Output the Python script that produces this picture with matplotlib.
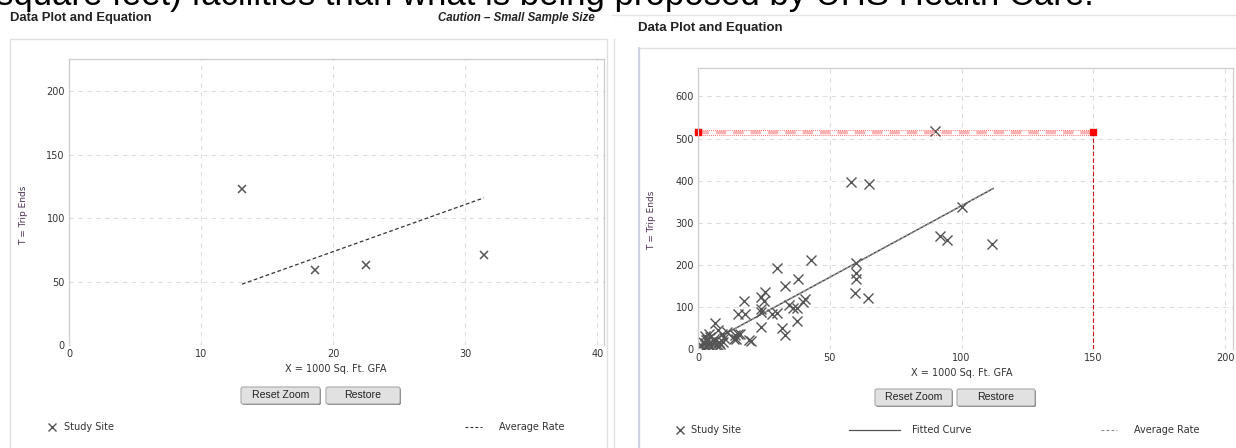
#!/usr/bin/env python3
"""Trip generation data plots: small sample (left) and full sample (right)."""
import matplotlib
matplotlib.use("Agg")
import matplotlib.pyplot as plt
from matplotlib.patches import FancyBboxPatch, Rectangle
from matplotlib.lines import Line2D

# left panel: small sample
left_x = [13.1, 18.6, 22.5, 31.4]
left_y = [123, 59, 63, 71]
left_avg_x = [13.1, 31.4]
left_avg_y = [48, 116]

# right panel: all study sites
right_x = [90, 58, 65, 100, 92, 94.5, 111.5, 43, 30, 60, 60, 60, 59.5, 64.5,
           38, 33, 25.5, 24, 25, 17.5, 15, 18, 24, 24, 28, 30, 34.5, 36, 37.5,
           40.5, 40, 37.5, 24, 32, 33, 20, 14.5, 15, 6.5, 7.5, 4.5, 2, 1.3, 3.2,
           5.2, 7.8, 7.8, 14, 13.5, 16, 19.5, 9, 10, 3, 4, 6, 2.5, 5, 8.5, 1.8,
           3.6, 6.8, 9.5, 4.2, 11, 2.8]
right_y = [519, 396, 392, 338, 268, 259, 249, 211, 191, 205, 181, 165, 133, 120,
           166, 150, 136, 124, 113, 114, 83, 82, 94, 87, 83, 86, 104, 96, 96,
           119, 110, 67, 52, 50, 32, 18, 24, 34, 62, 44, 28, 16, 8, 20,
           12, 16, 6, 32, 24, 36, 20, 35, 25, 5, 12, 24, 30, 3, 10, 2,
           22, 8, 15, 35, 40, 14]
fit_x = [1, 20, 50, 80, 112]
fit_y = [4, 68, 170, 272, 381]
avg_x = [1, 112]
avg_y = [3.4, 381]
target_x = 150
target_y = 515

GRID = "#dddddd"
FRAME = "#cccccc"
MARK = "#555555"
TICK = "#333333"
LABEL_PURPLE = "#4a3050"

fig = plt.figure(figsize=(12.36, 4.48), dpi=100)
W, H = 1236, 448

# overlay in pixel coordinates for page decorations
deco = fig.add_axes([0, 0, 1, 1], zorder=-1)
deco.set_xlim(0, W)
deco.set_ylim(H, 0)
deco.axis("off")


def style_axes(ax, xticks, yticks, xlim, ylim):
    ax.set_xlim(*xlim)
    ax.set_ylim(*ylim)
    ax.set_xticks(xticks)
    ax.set_yticks(yticks)
    ax.tick_params(length=0, labelsize=7, labelcolor=TICK, pad=3)
    ax.grid(True, color=GRID, linestyle=(0, (4, 4)), linewidth=0.8)
    for s in ax.spines.values():
        s.set_color(FRAME)
        s.set_linewidth(0.9)
    ax.spines["bottom"].set_visible(False)
    ax.set_axisbelow(True)


# ---- left panel ----
axL = fig.add_axes([69 / W, (H - 345) / H, (604 - 69) / W, (345 - 59) / H])
style_axes(axL, [0, 10, 20, 30, 40], [0, 50, 100, 150, 200], (0, 40.5), (0, 225.5))
axL.plot(left_avg_x, left_avg_y, color="#333333", linestyle=(0, (3, 2)), linewidth=0.9)
axL.plot(left_x, left_y, "x", color=MARK, markersize=6, mew=1.1)

# ---- right panel ----
axR = fig.add_axes([698 / W, (H - 348.7) / H, (1233 - 698) / W, (348.7 - 68.3) / H])
style_axes(axR, [0, 50, 100, 150, 200], [0, 100, 200, 300, 400, 500, 600],
           (0, 203), (0, 667))
axR.plot(fit_x, fit_y, color="#444444", linewidth=1.0)
axR.plot(avg_x, avg_y, color="#999999", linestyle=(0, (2, 1.5)), linewidth=1.0)
axR.plot(right_x, right_y, "x", color=MARK, markersize=6.5, mew=1.0)
# target lines
axR.plot([0, target_x], [target_y, target_y], color="#ffb0b0",
         linestyle=(0, (3, 2)), linewidth=2.5, solid_capstyle="butt")
axR.plot([0, target_x], [target_y - 6, target_y - 6], color="#ff4040",
         linestyle=(0, (1, 1.5)), linewidth=0.6)
axR.plot([0, target_x], [target_y + 6, target_y + 6], color="#ff4040",
         linestyle=(0, (1, 1.5)), linewidth=0.6)
axR.plot([target_x, target_x], [0, target_y], color="#d01010",
         linestyle=(0, (4, 2)), linewidth=0.8)
axR.plot([0, target_x], [target_y, target_y], "s", color="red",
         markersize=5, clip_on=False)

# ---- page decorations ----
fig.text(-4 / W, 1 - 5 / H, "square feet) facilities than what is being proposed by UHS Health Care.",
         fontsize=25, family="Liberation Sans", va="baseline", ha="left", color="black")
deco.text(10, 17.5, "Data Plot and Equation", fontsize=9.4, weight="bold",
          family="Liberation Sans", va="center", color="#222222")
deco.text(595, 18, "Caution \u2013 Small Sample Size", fontsize=8.3, weight="bold",
          style="italic", family="Liberation Sans", va="center", ha="right", color="#222222")
deco.text(638, 28, "Data Plot and Equation", fontsize=9.5, weight="bold",
          family="Liberation Sans", va="center", color="#222222")

# panel borders
deco.add_patch(Rectangle((10, 39), 597, 420, fill=False, edgecolor="#e0e0e0", linewidth=1))
deco.plot([614, 614], [39, H], color="#e0e0e0", linewidth=1)
deco.plot([612, W], [15, 15], color="#e6e6e6", linewidth=1)
deco.add_patch(Rectangle((639, 48), 620, 420, fill=False, edgecolor="#e0e0e0", linewidth=1))
deco.plot([639, 639], [48, H], color="#c8cce0", linewidth=1.2)

# axis labels
deco.text(336, 369, "X = 1000 Sq. Ft. GFA", fontsize=7, ha="center", va="center", color=TICK)
deco.text(962, 373, "X = 1000 Sq. Ft. GFA", fontsize=7, ha="center", va="center", color=TICK)
deco.text(24, 215, "T = Trip Ends", fontsize=6.5, rotation=90, ha="center", va="center",
          color=LABEL_PURPLE)
deco.text(652, 220, "T = Trip Ends", fontsize=6.5, rotation=90, ha="center", va="center",
          color=LABEL_PURPLE)


def button(x0, x1, y0, y1, label):
    deco.add_patch(FancyBboxPatch((x0 + 1, y0 + 1), x1 - x0, y1 - y0,
                                  boxstyle="round,pad=0,rounding_size=2",
                                  facecolor="#777777", edgecolor="none"))
    deco.add_patch(FancyBboxPatch((x0, y0), x1 - x0, y1 - y0,
                                  boxstyle="round,pad=0,rounding_size=2",
                                  facecolor="#e1e1e1", edgecolor="#aaaaaa", linewidth=0.8))
    deco.text((x0 + x1) / 2, (y0 + y1) / 2, label, fontsize=7.6, family="Liberation Sans",
              ha="center", va="center", color="#222222")


button(241, 320, 387, 404, "Reset Zoom")
button(326, 400, 387, 404, "Restore")
button(875, 952, 389, 406, "Reset Zoom")
button(957, 1035, 389, 406, "Restore")

# legends
deco.plot([52], [427], "x", color=MARK, markersize=6, mew=1)
deco.text(64, 427, "Study Site", fontsize=7, va="center", color=TICK)
deco.plot([465, 482], [427, 427], color="#333333", linestyle=(0, (2.5, 2)), linewidth=0.8)
deco.text(499, 427, "Average Rate", fontsize=7, va="center", color=TICK)

deco.plot([680], [430], "x", color=MARK, markersize=5.5, mew=1)
deco.text(691, 430, "Study Site", fontsize=7, va="center", color=TICK)
deco.add_line(Line2D([849, 900], [430, 430], color="#555555", linewidth=0.9))
deco.text(912, 430, "Fitted Curve", fontsize=7, va="center", color=TICK)
deco.plot([1101, 1117], [430, 430], color="#888888", linestyle=(0, (2.5, 2)), linewidth=0.8)
deco.text(1134, 430, "Average Rate", fontsize=7, va="center", color=TICK)

fig.savefig("out.png", dpi=100)
